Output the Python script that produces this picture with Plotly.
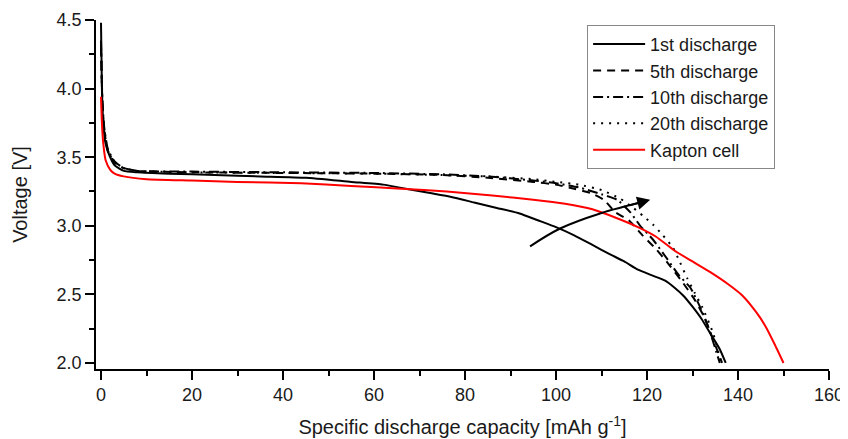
import plotly.graph_objects as go

# ---- data ----
x_1st = [0, 0.2, 0.5, 1, 2, 3, 5, 8, 15, 25, 35, 45, 55, 62, 67, 72, 77, 82, 87, 92, 96, 100,
         104, 108, 112, 115, 118, 121, 124, 126, 128, 130, 132, 134, 136, 137.3]
v_1st = [4.48, 4.0, 3.75, 3.6, 3.5, 3.44, 3.40, 3.39, 3.38, 3.37, 3.36, 3.35, 3.32, 3.30, 3.27,
         3.24, 3.21, 3.17, 3.13, 3.09, 3.04, 2.99, 2.93, 2.86, 2.79, 2.74, 2.68, 2.64, 2.60, 2.55,
         2.49, 2.41, 2.32, 2.21, 2.10, 2.0]

x_5th = [0, 0.3, 0.7, 1.5, 3, 5, 8, 20, 40, 60, 75, 85, 95, 100, 104, 107.5, 110.5, 113, 116,
         119, 122, 125, 128, 130.5, 132.5, 134.3, 136.5]
v_5th = [4.3, 3.9, 3.7, 3.55, 3.46, 3.42, 3.40, 3.39, 3.385, 3.38, 3.37, 3.35, 3.32, 3.30, 3.27,
         3.24, 3.19, 3.10, 3.04, 2.93, 2.83, 2.71, 2.58, 2.46, 2.34, 2.19, 2.0]

x_10th = [0, 0.3, 0.7, 1.5, 3, 5, 8, 20, 40, 60, 75, 85, 95, 100, 105, 110, 113.4, 116.3, 118.5,
          121.3, 124.4, 127, 129.5, 131.5, 133.5, 136]
v_10th = [4.35, 3.92, 3.72, 3.56, 3.47, 3.42, 3.40, 3.395, 3.39, 3.385, 3.375, 3.36, 3.33, 3.31,
          3.28, 3.23, 3.19, 3.10, 3.00, 2.90, 2.76, 2.64, 2.55, 2.42, 2.26, 2.0]

x_20th = [0, 0.3, 0.7, 1.5, 3, 5, 8, 20, 40, 60, 75, 85, 95, 100, 105, 110, 114, 117, 119.2,
          121.3, 123.5, 125.7, 127.3, 128.8, 130.5, 132.1, 134.5, 136.3]
v_20th = [4.32, 3.9, 3.7, 3.55, 3.46, 3.42, 3.40, 3.39, 3.385, 3.38, 3.37, 3.36, 3.34, 3.32,
          3.30, 3.26, 3.20, 3.13, 3.07, 3.01, 2.93, 2.84, 2.73, 2.62, 2.51, 2.41, 2.22, 2.0]

x_kapton = [0, 0.2, 0.5, 1, 2, 3, 5, 10, 20, 30, 44, 55, 66, 76, 86, 95, 102, 108, 113, 118,
            122, 126, 130, 134, 138, 141, 144, 146, 148, 150]
v_kapton = [3.94, 3.75, 3.6, 3.48, 3.41, 3.38, 3.36, 3.34, 3.33, 3.32, 3.31, 3.29, 3.27, 3.25,
            3.22, 3.19, 3.16, 3.12, 3.06, 2.99, 2.92, 2.82, 2.74, 2.66, 2.57, 2.49, 2.37, 2.27,
            2.14, 2.0]

arrow_x = [94.3, 100.9, 109.7, 120.0]
arrow_v = [2.85, 2.98, 3.09, 3.18]

series = [
    ("1st discharge", x_1st, v_1st, "black", "solid"),
    ("5th discharge", x_5th, v_5th, "black", "8px,6px"),
    ("10th discharge", x_10th, v_10th, "black", "10px,4px,2px,4px"),
    ("20th discharge", x_20th, v_20th, "black", "2px,6px"),
    ("Kapton cell", x_kapton, v_kapton, "red", "solid"),
]

FONT = "Liberation Sans, Arial, sans-serif"

fig = go.Figure()
for name, xs, vs, col, dash in series:
    fig.add_trace(go.Scatter(x=xs, y=vs, mode="lines", name=name,
                             line=dict(color=col, width=2, dash=dash,
                                       shape="spline", smoothing=0.5)))

fig.add_trace(go.Scatter(x=arrow_x, y=arrow_v, mode="lines", showlegend=False,
                         line=dict(color="black", width=2, shape="spline"),
                         hoverinfo="skip"))
fig.add_annotation(x=120.7, y=3.19, ax=-22, ay=6, xref="x", yref="y",
                   text="", showarrow=True, arrowhead=2, arrowsize=1.3,
                   arrowwidth=2, arrowcolor="black")

# the page body adds an 8px margin; the figure is sized so it fits the window
fig.update_layout(
    width=840, height=431,
    margin=dict(l=88, r=19, t=12, b=70, autoexpand=False),
    paper_bgcolor="white", plot_bgcolor="white",
    font=dict(family=FONT, color="#1a1a1a"),
    showlegend=True,
    legend=dict(x=0.67, y=0.986, xanchor="left", yanchor="top",
                bordercolor="#888888", borderwidth=1, bgcolor="white",
                font=dict(size=18, family=FONT, color="#1a1a1a"),
                tracegroupgap=0, itemwidth=52),
    xaxis=dict(range=[-1.1, 160], showgrid=False, zeroline=False, automargin=False,
               showline=True, linecolor="black", linewidth=1.5,
               ticks="outside", ticklen=9, tickwidth=1.5, tickcolor="black",
               dtick=20, tick0=0,
               minor=dict(ticks="outside", ticklen=5, tickwidth=1.5, dtick=10,
                          tickcolor="black"),
               tickfont=dict(size=18, family=FONT),
               title=dict(text="Specific discharge capacity [mAh g<sup>-1</sup>]",
                          font=dict(size=20, family=FONT), standoff=16)),
    yaxis=dict(range=[1.956, 4.5], showgrid=False, zeroline=False, automargin=False,
               showline=True, linecolor="black", linewidth=1.5,
               ticks="outside", ticklen=9, tickwidth=1.5, tickcolor="black",
               dtick=0.5, tick0=2.0, tickformat=".1f",
               minor=dict(ticks="outside", ticklen=5, tickwidth=1.5, dtick=0.25,
                          tickcolor="black"),
               tickfont=dict(size=18, family=FONT),
               title=dict(text="Voltage [V]", font=dict(size=20, family=FONT),
                          standoff=24)),
)

fig.write_html("out.html")
